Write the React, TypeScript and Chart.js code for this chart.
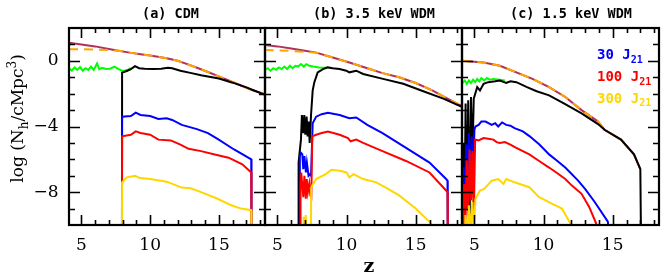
import React, { useEffect, useRef } from "react";
import { Chart, registerables } from "chart.js";

Chart.register(...registerables);

type Pt = [number, number];

// ---------- data: [redshift z, log N_h] ----------
// panel (a) CDM
const cdmTotal: Pt[] = [[4.1, 1.1], [5, 1.0], [6, 0.88], [7, 0.72], [7.5, 0.64], [8.5, 0.5], [9.3, 0.4], [10, 0.32], [11.2, 0.16], [12, 0.0], [12.7, -0.2], [13.5, -0.45], [14.2, -0.68], [14.9, -0.92], [15.8, -1.22], [16.6, -1.5], [17.4, -1.78], [18.4, -2.05]];
const cdmCool: Pt[] = [[4.1, 0.7], [5, 0.7], [6, 0.69], [7, 0.66], [7.8, 0.6], [8.5, 0.5], [9.3, 0.4], [10, 0.32], [11.2, 0.16], [12, 0.0], [12.7, -0.2], [13.5, -0.45], [14.2, -0.68], [14.9, -0.92], [15.8, -1.22], [16.6, -1.5], [17.4, -1.78], [18.4, -2.05]];
const cdmNoLW: Pt[] = [[4.1, -0.45], [4.3, -0.6], [4.5, -0.4], [4.7, -0.55], [4.9, -0.38], [5.1, -0.6], [5.3, -0.45], [5.5, -0.55], [5.7, -0.35], [5.9, -0.55], [6.14, -0.16], [6.3, -0.5], [6.5, -0.42], [6.8, -0.5], [7.1, -0.48], [7.4, -0.35], [7.7, -0.5], [8.0, -0.62], [8.3, -0.58], [8.6, -0.45]];
const cdmJ1: Pt[] = [[7.95, -11], [7.96, -0.72], [8.3, -0.62], [8.6, -0.5], [8.9, -0.32], [9.2, -0.45], [9.6, -0.48], [10.2, -0.5], [10.8, -0.48], [11.3, -0.42], [11.6, -0.45], [12.2, -0.6], [13, -0.75], [13.7, -0.88], [14.4, -0.98], [15, -1.08], [16, -1.33], [17, -1.62], [17.6, -1.82], [18.4, -2.08]];
const cdmJ30: Pt[] = [[7.95, -11], [7.96, -3.4], [8.6, -3.36], [8.95, -3.16], [9.3, -3.3], [10, -3.36], [10.6, -3.54], [11.2, -3.5], [11.6, -3.6], [12.3, -3.9], [13.4, -4.16], [14.2, -4.4], [14.9, -4.76], [16.1, -5.4], [17.35, -6.0], [17.37, -11]];
const cdmJ100: Pt[] = [[7.95, -11], [7.96, -4.6], [8.6, -4.5], [8.95, -4.3], [9.3, -4.4], [10, -4.5], [10.6, -4.8], [11.5, -4.85], [12.2, -5.1], [12.8, -5.36], [13.7, -5.5], [14.7, -5.7], [15.7, -5.9], [16.7, -6.3], [17.35, -6.8], [17.37, -11]];
const cdmJ300: Pt[] = [[7.95, -11], [7.96, -7.4], [8.3, -7.1], [8.65, -7.04], [8.9, -7.0], [9.26, -7.14], [10, -7.2], [11.2, -7.36], [12.3, -7.72], [12.95, -7.76], [13.7, -8.0], [14.9, -8.4], [15.9, -8.8], [16.6, -9.0], [17.35, -9.1], [17.37, -11]];

// panel (b) 3.5 keV WDM
const w35Total: Pt[] = [[4.07, 0.97], [5, 0.88], [6, 0.75], [7, 0.62], [7.8, 0.5], [9, 0.2], [10.2, -0.1], [11.5, -0.45], [12.6, -0.75], [13.8, -1.0], [15, -1.35], [16.2, -1.8], [17.3, -2.3], [18.46, -2.8]];
const w35Cool: Pt[] = [[4.07, 0.66], [5, 0.64], [6, 0.6], [7, 0.55], [7.8, 0.5], [9, 0.2], [10.2, -0.1], [11.5, -0.45], [12.6, -0.75], [13.8, -1.0], [15, -1.35], [16.2, -1.8], [17.3, -2.3], [18.46, -2.8]];
const w35NoLW: Pt[] = [[4.07, -0.56], [4.3, -0.45], [4.5, -0.6], [4.7, -0.45], [4.9, -0.55], [5.1, -0.4], [5.3, -0.5], [5.5, -0.35], [5.7, -0.5], [5.9, -0.3], [6.1, -0.45], [6.3, -0.3], [6.5, -0.35], [6.7, -0.2], [6.9, -0.35], [7.1, -0.2], [7.3, -0.3], [7.6, -0.35], [8.0, -0.4], [8.3, -0.42], [8.64, -0.4]];
const w35J1: Pt[] = [[6.5, -11], [6.53, -6.2], [6.7, -4.8], [6.77, -3.3], [6.87, -4.4], [6.94, -3.3], [7.02, -4.5], [7.11, -3.4], [7.18, -4.6], [7.26, -3.7], [7.33, -5.0], [7.43, -3.3], [7.55, -1.8], [7.67, -1.3], [7.91, -0.7], [8.3, -0.5], [8.64, -0.4], [9.0, -0.45], [9.49, -0.5], [9.98, -0.6], [10.2, -0.7], [10.7, -0.6], [11.2, -0.8], [12.64, -1.1], [14.1, -1.4], [15.55, -1.85], [17.0, -2.3], [18.46, -2.85]];
const w35J30: Pt[] = [[6.6, -11], [6.62, -5.8], [6.7, -5.6], [6.8, -5.7], [6.87, -6.6], [6.95, -5.8], [7.06, -6.8], [7.13, -6.2], [7.25, -7.0], [7.36, -6.9], [7.43, -7.0], [7.55, -3.8], [7.8, -3.4], [8.2, -3.25], [8.65, -3.16], [9.5, -3.3], [10.2, -3.5], [10.7, -3.45], [11.5, -3.9], [12.6, -4.4], [14.1, -5.2], [16, -6.2], [17.2, -7.2], [17.3, -7.3], [17.32, -11]];
const w35J100: Pt[] = [[6.65, -11], [6.67, -7.5], [6.72, -6.8], [6.8, -7.6], [6.87, -8.3], [6.95, -7.0], [7.05, -8.4], [7.12, -7.2], [7.2, -8.0], [7.3, -7.5], [7.38, -8.2], [7.45, -8.3], [7.52, -4.6], [7.8, -4.5], [8.2, -4.4], [8.65, -4.3], [9.5, -4.5], [10.1, -4.7], [10.3, -4.9], [10.7, -4.8], [11.2, -5.0], [12.6, -5.5], [14.3, -6.1], [16, -6.8], [17.2, -7.9], [17.3, -8.0], [17.32, -11]];
const w35J300: Pt[] = [[6.85, -11], [6.9, -9.5], [6.97, -11], [7.05, -9.4], [7.12, -11], [7.42, -11], [7.44, -7.7], [7.8, -7.2], [8.5, -6.9], [8.9, -6.64], [9.5, -6.7], [10, -6.8], [10.2, -7.1], [10.5, -6.9], [11.2, -7.2], [12.15, -7.4], [13.0, -7.8], [13.8, -8.2], [15, -9.0], [16.1, -9.9], [16.3, -11]];

// panel (c) 1.5 keV WDM
const w15Total: Pt[] = [[4.13, 0.0], [5, -0.05], [5.66, -0.1], [6.84, -0.3], [8.03, -0.7], [9.2, -1.1], [10.4, -1.6], [11.57, -2.2], [12.75, -3.0], [13.94, -3.7], [14.41, -4.2], [15.6, -4.8], [16.54, -5.7], [17.0, -6.6]];
const w15Cool: Pt[] = [[4.13, 0.0], [5, -0.05], [5.66, -0.1], [6.84, -0.3], [8.03, -0.7], [9.2, -1.1], [10.4, -1.6], [11.57, -2.2], [12.75, -3.0], [13.94, -3.7], [14.41, -4.2], [15.6, -4.8], [16.54, -5.7], [17.0, -6.6]];
const w15NoLW: Pt[] = [[4.13, -1.35], [4.3, -1.2], [4.45, -1.4], [4.6, -1.2], [4.75, -1.35], [4.9, -1.15], [5.05, -1.3], [5.2, -1.1], [5.35, -1.25], [5.5, -1.05], [5.7, -1.2], [5.9, -1.05], [6.1, -1.15], [6.4, -1.1], [6.8, -1.15], [7.2, -1.2]];
const w15J1: Pt[] = [[4.15, -11], [4.2, -5.0], [4.28, -9.5], [4.36, -2.6], [4.45, -9.0], [4.55, -2.4], [4.65, -9.8], [4.75, -2.2], [4.85, -6], [4.95, -2.3], [5.2, -1.6], [5.4, -1.8], [5.66, -1.4], [6.0, -1.3], [6.5, -1.25], [6.84, -1.2], [7.3, -1.35], [7.6, -1.25], [8.03, -1.3], [8.8, -1.6], [9.5, -1.85], [10.4, -2.1], [11.5, -2.6], [12.75, -3.2], [13.94, -3.85], [14.41, -4.2], [15.6, -4.8], [16.54, -5.7], [17.0, -6.6], [17.05, -11]];
const w15J30: Pt[] = [[4.18, -11], [4.2, -6.5], [4.3, -8.6], [4.4, -5.0], [4.5, -7.8], [4.6, -4.4], [4.7, -8.2], [4.8, -4.6], [4.9, -6.8], [5.0, -4.2], [5.07, -4.0], [5.3, -3.9], [5.5, -3.7], [5.8, -3.7], [6.25, -3.9], [6.5, -3.8], [6.72, -4.0], [7.0, -3.75], [7.3, -3.9], [7.6, -3.95], [7.9, -4.1], [8.5, -4.3], [9.0, -4.6], [9.7, -5.1], [10.4, -5.7], [11.0, -6.1], [11.57, -6.5], [12.5, -7.3], [13.0, -7.8], [13.7, -8.6], [14.65, -9.8], [14.8, -11]];
const w15J100: Pt[] = [[4.2, -11], [4.25, -7.5], [4.35, -10], [4.45, -6.0], [4.55, -9.5], [4.65, -5.4], [4.75, -8.5], [4.85, -5.5], [4.95, -9.8], [5.05, -4.8], [5.3, -4.85], [5.66, -4.7], [6.0, -4.75], [6.37, -4.8], [6.6, -4.95], [6.84, -5.0], [7.2, -4.95], [7.6, -5.1], [8.03, -5.3], [8.97, -5.7], [9.68, -6.1], [10.4, -6.5], [11.0, -6.85], [11.57, -7.2], [12.05, -7.6], [12.75, -8.1], [13.3, -8.9], [13.8, -9.9], [13.9, -11]];
const w15J300: Pt[] = [[4.3, -11], [4.35, -9.4], [4.45, -10.5], [4.6, -8.8], [4.7, -10.5], [4.85, -8.6], [4.95, -10.5], [5.07, -8.4], [5.4, -7.9], [5.7, -7.8], [6.25, -7.3], [6.72, -7.2], [7.1, -7.5], [7.3, -7.2], [7.9, -7.4], [8.97, -7.7], [9.68, -8.3], [10.15, -8.5], [10.6, -8.7], [11.33, -9.0], [11.93, -9.9], [12.0, -11]];

const panelTitles = ["(a) CDM", "(b) 3.5 keV WDM", "(c) 1.5 keV WDM"];
const xTickLabels = [5, 10, 15];
const yTickLabels = [0, -4, -8];
const legendLabels = ["30", "100", "300"];

// ---------- layout & style ----------
const W = 671;
const H = 277;
const TOP = 28;
const BOTTOM = 225;
const PANEL_LR: [number, number][] = [[69, 265], [265, 462], [462, 659]];
const TITLE_CX = [170.5, 374, 571];
const X_MIN = 4.1;
const X_MAX = 18.35;
const Y_MIN = -10;
const Y_MAX = 2;

const COLORS = {
  total: "#b03060",
  cool: "#ffa500",
  nolw: "#00ff00",
  j1: "#000000",
  j30: "#0000ff",
  j100: "#ff0000",
  j300: "#ffd700",
};

const panelSeries = [
  [cdmTotal, cdmCool, cdmNoLW, cdmJ1, cdmJ30, cdmJ100, cdmJ300],
  [w35Total, w35Cool, w35NoLW, w35J1, w35J30, w35J100, w35J300],
  [w15Total, w15Cool, w15NoLW, w15J1, w15J30, w15J100, w15J300],
];

const SERIF = "'DejaVu Serif', serif";
const MONO = "'DejaVu Sans Mono', monospace";

type Seg = { t: string; mode?: "sub" | "sup" };

function drawSegs(ctx: CanvasRenderingContext2D, segs: Seg[], x: number, y: number, size: number, family: string, weight: string, align: "left" | "center") {
  const small = Math.round(size * 0.68);
  const fontFor = (s: Seg) => `${weight} ${s.mode ? small : size}px ${family}`;
  let total = 0;
  for (const s of segs) {
    ctx.font = fontFor(s);
    total += ctx.measureText(s.t).width;
  }
  let cx = align === "center" ? x - total / 2 : x;
  ctx.textAlign = "left";
  ctx.textBaseline = "alphabetic";
  for (const s of segs) {
    ctx.font = fontFor(s);
    const dy = s.mode === "sub" ? size * 0.28 : s.mode === "sup" ? -size * 0.4 : 0;
    ctx.fillText(s.t, cx, y + dy);
    cx += ctx.measureText(s.t).width;
  }
}

function makePlugin(idx: number) {
  return {
    id: "frame" + idx,
    afterDraw(chart: any) {
      const ctx: CanvasRenderingContext2D = chart.ctx;
      const a = chart.chartArea;
      const xs = chart.scales.x;
      const ys = chart.scales.y;
      ctx.save();
      ctx.strokeStyle = "#000";
      ctx.lineWidth = 1.6;
      ctx.beginPath();
      for (let v = Math.ceil(X_MIN); v < X_MAX; v++) {
        const px = Math.round(xs.getPixelForValue(v)) + 0.5;
        const len = v % 5 === 0 ? 10 : 5;
        ctx.moveTo(px, a.bottom);
        ctx.lineTo(px, a.bottom - len);
        ctx.moveTo(px, a.top);
        ctx.lineTo(px, a.top + len);
      }
      for (let v = Y_MIN + 1; v < Y_MAX; v++) {
        const py = Math.round(ys.getPixelForValue(v)) + 0.5;
        const len = v % 4 === 0 ? 11 : 6;
        ctx.moveTo(a.left, py);
        ctx.lineTo(a.left + len, py);
        ctx.moveTo(a.right, py);
        ctx.lineTo(a.right - len, py);
      }
      ctx.stroke();
      ctx.lineWidth = 2.2;
      ctx.strokeRect(a.left, a.top, a.right - a.left, a.bottom - a.top);

      ctx.fillStyle = "#000";
      // x tick labels
      ctx.font = `17px ${SERIF}`;
      ctx.textAlign = "center";
      ctx.textBaseline = "alphabetic";
      for (const v of xTickLabels) {
        ctx.fillText(String(v), xs.getPixelForValue(v), 249.5);
      }
      // panel title
      ctx.font = `bold 13.5px ${MONO}`;
      ctx.textAlign = "center";
      ctx.fillText(panelTitles[idx], TITLE_CX[idx], 18);

      if (idx === 0) {
        ctx.font = `17px ${SERIF}`;
        ctx.textAlign = "right";
        ctx.textBaseline = "middle";
        for (const v of yTickLabels) {
          const s = v < 0 ? "\u2212" + String(-v) : String(v);
          ctx.fillText(s, 58.5, ys.getPixelForValue(v));
        }
        ctx.save();
        ctx.translate(23, 118.5);
        ctx.rotate(-Math.PI / 2);
        drawSegs(ctx, [{ t: "log (N" }, { t: "h", mode: "sub" }, { t: "/cMpc" }, { t: "3", mode: "sup" }, { t: ")" }], 0, 0, 17, SERIF, "normal", "center");
        ctx.restore();
      }
      if (idx === 1) {
        ctx.font = `bold 19px ${SERIF}`;
        ctx.textAlign = "center";
        ctx.textBaseline = "alphabetic";
        ctx.fillText("z", 369, 272);
      }
      if (idx === 2) {
        const cols = [COLORS.j30, COLORS.j100, COLORS.j300];
        const base = [59, 80.8, 102.5];
        legendLabels.forEach((lab, i) => {
          ctx.fillStyle = cols[i];
          drawSegs(ctx, [{ t: lab + " J" }, { t: "21", mode: "sub" }], 597, base[i], 14, MONO, "bold", "left");
        });
      }
      ctx.restore();
    },
  };
}

function Panel({ idx }: { idx: number }) {
  const ref = useRef<HTMLCanvasElement | null>(null);
  useEffect(() => {
    if (!ref.current) return;
    const [l, r] = PANEL_LR[idx];
    const s = panelSeries[idx];
    const mk = (pts: Pt[], color: string, order: number, dash?: number[]) => ({
      data: pts.map(([x, y]) => ({ x, y })),
      borderColor: color,
      backgroundColor: color,
      borderWidth: 2,
      borderDash: dash || [],
      pointRadius: 0,
      tension: 0,
      fill: false,
      order,
    });
    const chart = new Chart(ref.current, {
      type: "line",
      data: {
        datasets: [
          mk(s[0], COLORS.total, 7),
          mk(s[1], COLORS.cool, 6, [9, 6]),
          mk(s[2], COLORS.nolw, 5),
          mk(s[3], COLORS.j1, 4),
          mk(s[4], COLORS.j30, 3),
          mk(s[5], COLORS.j100, 2),
          mk(s[6], COLORS.j300, 1),
        ] as any,
      },
      options: {
        animation: false,
        responsive: false,
        devicePixelRatio: 1,
        parsing: false as any,
        layout: { padding: { left: l, right: W - r, top: TOP, bottom: H - BOTTOM } },
        scales: {
          x: { type: "linear", min: X_MIN, max: X_MAX, display: false },
          y: { type: "linear", min: Y_MIN, max: Y_MAX, display: false },
        },
        plugins: { legend: { display: false }, tooltip: { enabled: false }, title: { display: false } },
        events: [],
      },
      plugins: [makePlugin(idx)],
    });
    return () => chart.destroy();
  }, [idx]);
  return (
    <canvas
      ref={ref}
      width={W}
      height={H}
      style={{ position: "absolute", left: 0, top: 0, width: W, height: H }}
    />
  );
}

export default function App() {
  return (
    <div style={{ position: "fixed", left: 0, top: 0, width: W, height: H, background: "#fff", overflow: "hidden" }}>
      <Panel idx={0} />
      <Panel idx={1} />
      <Panel idx={2} />
    </div>
  );
}
